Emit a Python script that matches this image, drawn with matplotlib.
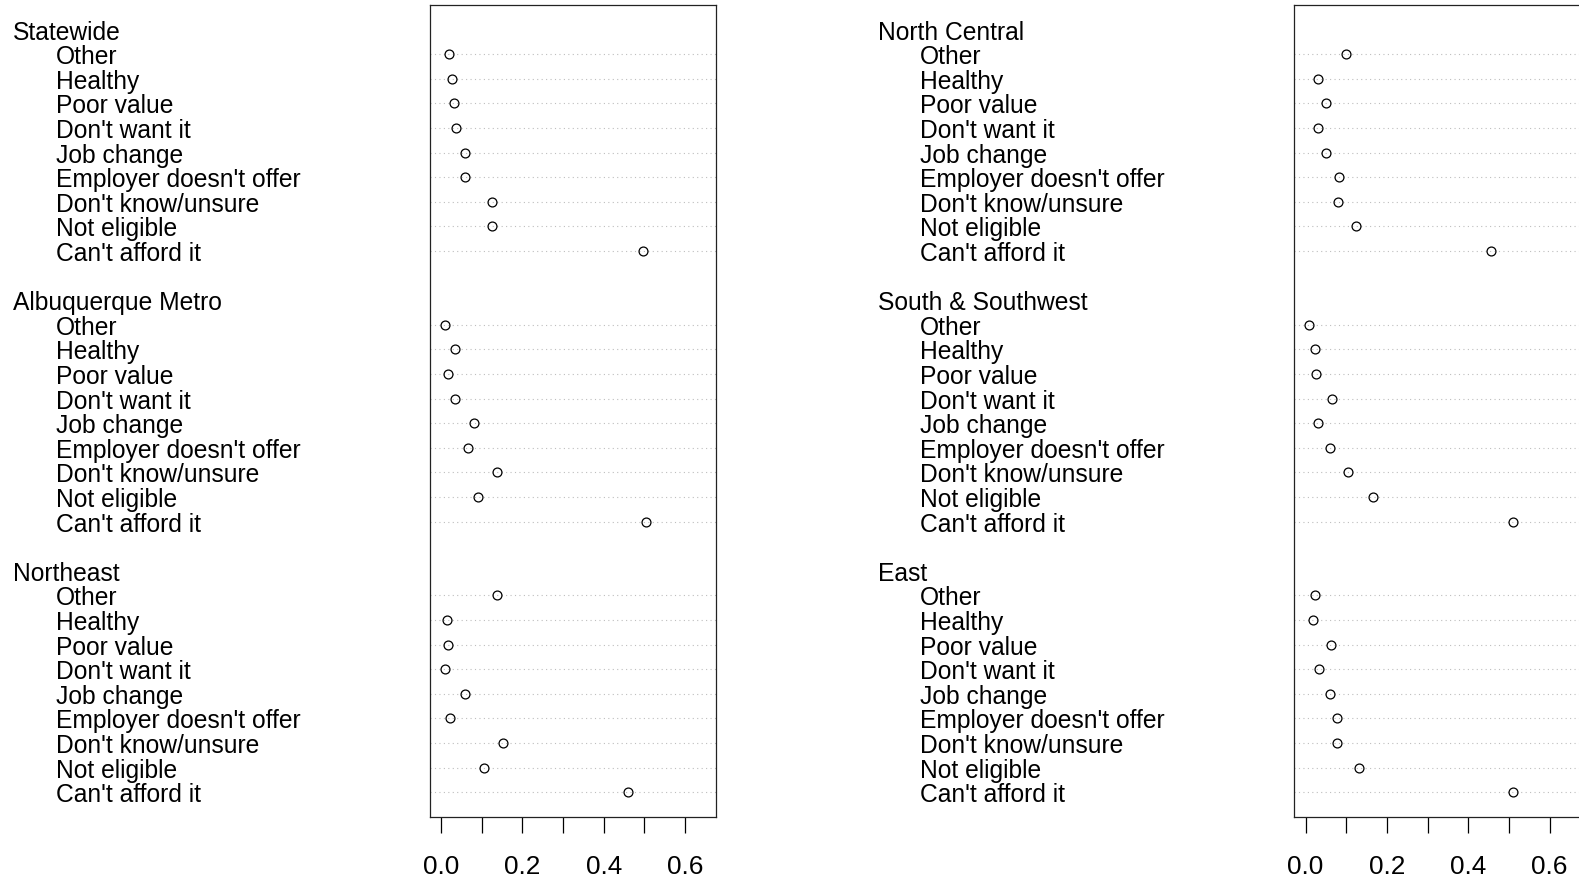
import matplotlib
matplotlib.use("Agg")
import matplotlib.pyplot as plt
import matplotlib.transforms as mtransforms

plt.rcParams['font.family'] = ['Liberation Sans', 'DejaVu Sans']

# Categorías (de arriba hacia abajo en cada grupo)
reasons = ["Other", "Healthy", "Poor value", "Don't want it", "Job change",
           "Employer doesn't offer", "Don't know/unsure", "Not eligible",
           "Can't afford it"]

left_groups = ["Statewide", "Albuquerque Metro", "Northeast"]
right_groups = ["North Central", "South & Southwest", "East"]

statewide = [0.020, 0.026, 0.032, 0.038, 0.059, 0.060, 0.125, 0.125, 0.496]
albuquerque = [0.011, 0.035, 0.017, 0.035, 0.080, 0.066, 0.138, 0.090, 0.505]
northeast = [0.138, 0.014, 0.017, 0.011, 0.059, 0.023, 0.153, 0.105, 0.459]

north_central = [0.099, 0.030, 0.051, 0.030, 0.051, 0.082, 0.079, 0.124, 0.455]
south_southwest = [0.008, 0.023, 0.026, 0.065, 0.030, 0.060, 0.105, 0.165, 0.510]
east = [0.023, 0.017, 0.062, 0.033, 0.060, 0.078, 0.078, 0.132, 0.510]

left_values = [statewide, albuquerque, northeast]
right_values = [north_central, south_southwest, east]

W, H = 1579, 880
fig = plt.figure(figsize=(W / 100, H / 100), dpi=100)

FS = 17.7
TICK_FS = 18.8


def dotchart(ax_rect, groups, values, x_header, x_item):
    ax = fig.add_axes(ax_rect)
    trans = mtransforms.blended_transform_factory(fig.transFigure, ax.transData)
    # bajar un poco el texto, como en R
    trans = trans + mtransforms.ScaledTranslation(0, -3 / 100, fig.dpi_scale_trans)
    row = 0
    for g, vals in zip(groups, values):
        fig.text(x_header / W, row, g, transform=trans, ha='left', va='center',
                 fontsize=FS)
        for r, v in zip(reasons, vals):
            row += 1
            ax.axhline(row, color='#bebebe', linestyle=(0, (1, 3)), linewidth=0.8)
            ax.plot(v, row, 'o', markerfacecolor='none', markeredgecolor='black',
                    markersize=6.4, markeredgewidth=0.9)
            fig.text(x_item / W, row, r, transform=trans, ha='left', va='center',
                     fontsize=FS)
        row += 2
    ax.set_xlim(-0.0278, 0.676)
    ax.set_ylim(32, -1)
    ax.set_yticks([])
    ax.set_xticks([0, 0.1, 0.2, 0.3, 0.4, 0.5, 0.6])
    ax.set_xticklabels(["0.0", "", "0.2", "", "0.4", "", "0.6"])
    ax.tick_params(axis='x', length=11.5, width=0.9, pad=16, labelsize=TICK_FS)
    for s in ax.spines.values():
        s.set_linewidth(0.9)
        s.set_color('#222222')
    return ax


bottom = 1 - 816.7 / H
top = 1 - 5 / H
wid = 286.3 / W
dotchart([429.7 / W, bottom, wid, top - bottom], left_groups, left_values, 13, 56)
dotchart([1294.3 / W, bottom, wid, top - bottom], right_groups, right_values, 878, 920)

fig.savefig("out.png", dpi=100)
